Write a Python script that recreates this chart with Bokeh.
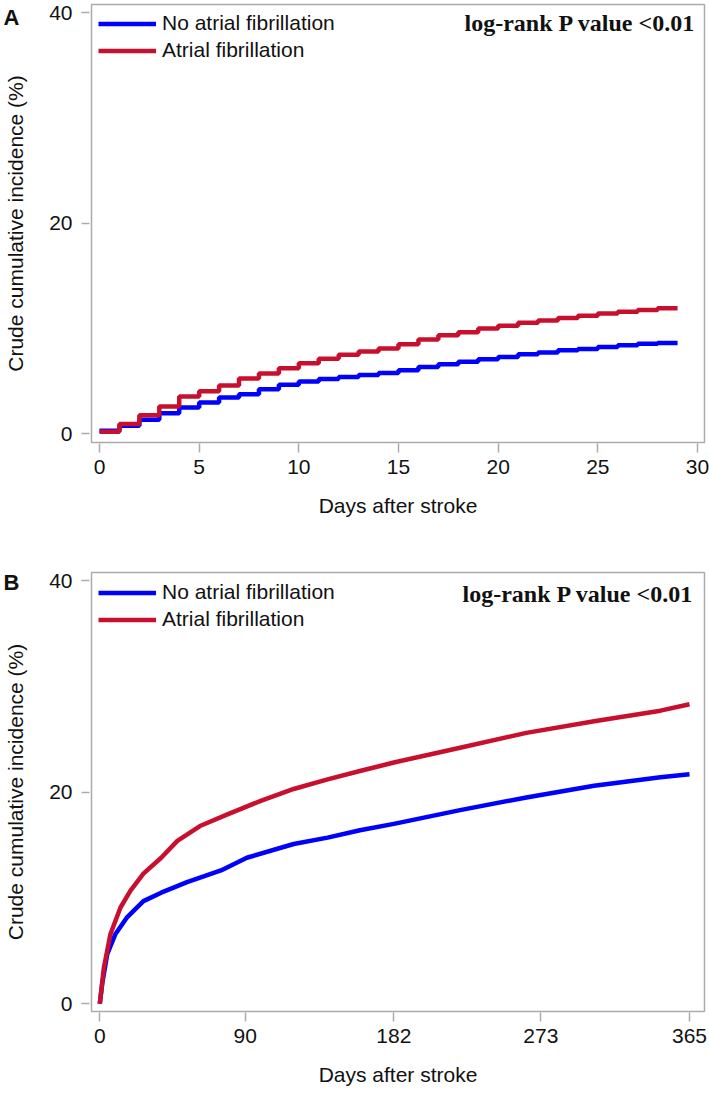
from bokeh.plotting import figure
from bokeh.models import Range1d, FixedTicker, Label, LinearAxis, PrintfTickFormatter
from bokeh.layouts import column
from bokeh.embed import file_html
from bokeh.resources import INLINE

# ---------------- data ----------------
# Panel A: 30-day crude cumulative incidence (%), step values per day interval
days_a = [0, 1, 2, 3, 4, 5, 6, 7, 8, 9, 10, 11, 12, 13, 14, 15, 16, 17, 18, 19,
          20, 21, 22, 23, 24, 25, 26, 27, 28, 29]
no_af_a = [0.30, 0.76, 1.33, 1.96, 2.50, 2.97, 3.44, 3.76, 4.24, 4.65, 4.96, 5.20,
           5.40, 5.58, 5.78, 6.04, 6.35, 6.60, 6.85, 7.08, 7.30, 7.55, 7.71, 7.94,
           8.06, 8.25, 8.41, 8.56, 8.63, 8.63]
af_a = [0.20, 0.92, 1.77, 2.59, 3.54, 4.04, 4.58, 5.24, 5.72, 6.23, 6.70, 7.12,
        7.50, 7.82, 8.10, 8.50, 8.95, 9.35, 9.65, 10.00, 10.25, 10.55, 10.75, 11.00,
        11.20, 11.42, 11.58, 11.75, 11.92, 11.92]

# Panel B: 1-year crude cumulative incidence (%)
days_b_no_af = [0, 1.5, 4.6, 9.7, 17, 27, 38, 54, 75, 91, 120, 141, 161, 182, 223,
                264, 306, 347, 365]
no_af_b = [0.0, 1.9, 4.7, 6.6, 8.2, 9.7, 10.5, 11.5, 12.6, 13.8, 15.1, 15.7, 16.4,
           17.0, 18.3, 19.5, 20.6, 21.4, 21.7]
days_b_af = [0, 2.5, 6.6, 12.8, 19, 27, 38, 48, 62, 79, 100, 120, 141, 161, 182, 223,
             264, 306, 347, 365]
af_b = [0.0, 3.4, 6.6, 9.1, 10.7, 12.3, 13.8, 15.4, 16.8, 17.9, 19.2, 20.3, 21.2,
        22.0, 22.8, 24.2, 25.6, 26.7, 27.7, 28.3]

x_ticks_a = [0, 5, 10, 15, 20, 25, 30]
x_ticks_b = [0, 90, 182, 273, 365]
y_ticks = [0, 20, 40]

series_names = ["No atrial fibrillation", "Atrial fibrillation"]
panel_letters = ["A", "B"]
x_title = "Days after stroke"
y_title = "Crude cumulative incidence (%)"
p_text = "log-rank P value <0.01"

BLUE = "#0000FF"
RED = "#C8102E"
FRAME = "#ABABAB"
INK = "#111111"
SANS = "Liberation Sans"
SERIF = "Liberation Serif"
W = 709


def style(p, xt, letter, letter_at):
    p.outline_line_color = FRAME
    p.outline_line_width = 1.5
    p.grid.grid_line_color = None
    p.background_fill_color = "white"
    p.border_fill_color = "white"
    p.xaxis.ticker = FixedTicker(ticks=xt)
    p.yaxis.ticker = FixedTicker(ticks=y_ticks)
    for ax in (p.xaxis[0], p.yaxis[0]):
        ax.axis_line_color = None
        ax.minor_tick_line_color = None
        ax.major_tick_line_color = FRAME
        ax.major_tick_line_width = 1.5
        ax.major_label_text_font = SANS
        ax.major_label_text_font_size = "21px"
        ax.major_label_text_color = INK
        ax.axis_label_text_font = SANS
        ax.axis_label_text_font_size = "21px"
        ax.axis_label_text_font_style = "normal"
        ax.axis_label_text_color = INK
        ax.major_tick_out = 10
    p.yaxis.major_tick_in = -2
    p.xaxis.major_tick_in = -1
    p.yaxis.major_label_standoff = 9
    p.xaxis.major_label_standoff = 7
    p.xaxis.axis_label = x_title
    p.xaxis.axis_label_standoff = 17

    # outer left axis: carries the panel letter (as its only tick label)
    # and the rotated y title
    outer = LinearAxis(ticker=FixedTicker(ticks=[letter_at]),
                       formatter=PrintfTickFormatter(format=letter),
                       axis_label=y_title)
    outer.axis_line_color = None
    outer.major_tick_line_color = None
    outer.minor_tick_line_color = None
    outer.major_tick_out = 0
    outer.major_tick_in = 0
    outer.major_label_standoff = 27
    outer.major_label_text_font = SANS
    outer.major_label_text_font_size = "22px"
    outer.major_label_text_font_style = "bold"
    outer.major_label_text_color = INK
    outer.axis_label_standoff = -26
    outer.axis_label_text_font = SANS
    outer.axis_label_text_font_size = "21px"
    outer.axis_label_text_font_style = "normal"
    outer.axis_label_text_color = INK
    p.add_layout(outer, "left")


def legend_style(p, ybottom):
    lg = p.legend[0]
    lg.location = (7, ybottom)
    lg.padding = 0
    lg.margin = 0
    lg.spacing = 0
    lg.glyph_width = 58
    lg.glyph_height = 27
    lg.label_height = 27
    lg.label_standoff = 6
    lg.label_text_font = SANS
    lg.label_text_font_size = "21px"
    lg.label_text_color = INK
    lg.border_line_color = None
    lg.background_fill_alpha = 0


# ---------------- panel A ----------------
HA = 535
pA = figure(width=W, height=HA, output_backend="svg", toolbar_location=None,
            x_range=Range1d(-0.401, 30.351), y_range=Range1d(-0.826, 40.76),
            min_border_top=4, min_border_left=91, min_border_right=5,
            min_border_bottom=HA - 442)
style(pA, x_ticks_a, panel_letters[0], 39.53)
pA.step(days_a, no_af_a, mode="after", line_color=BLUE, line_width=4.5,
        legend_label=series_names[0])
pA.step(days_a, af_a, mode="after", line_color=RED, line_width=4.5,
        legend_label=series_names[1])
legend_style(pA, 378.5)
pA.add_layout(Label(x=604, y=420, x_units="screen", y_units="screen", text=p_text,
                    text_font=SERIF, text_font_size="24px", text_font_style="bold",
                    text_baseline="middle", text_align="right", text_color=INK))

# ---------------- panel B ----------------
HB = 1094 - HA
pB = figure(width=W, height=HB, output_backend="svg", toolbar_location=None,
            x_range=Range1d(-5.137, 374.28), y_range=Range1d(-0.728, 40.756),
            min_border_top=572 - HA, min_border_left=91, min_border_right=5,
            min_border_bottom=1094 - 1011)
style(pB, x_ticks_b, panel_letters[1], 39.8)
pB.line(days_b_no_af, no_af_b, line_color=BLUE, line_width=4.5, line_join="round",
        legend_label=series_names[0])
pB.line(days_b_af, af_b, line_color=RED, line_width=4.5, line_join="round",
        legend_label=series_names[1])
legend_style(pB, 378.5)
pB.add_layout(Label(x=602, y=418, x_units="screen", y_units="screen", text=p_text,
                    text_font=SERIF, text_font_size="24px", text_font_style="bold",
                    text_baseline="middle", text_align="right", text_color=INK))

layout = column(pA, pB, spacing=0)
open("out.html", "w").write(file_html(layout, INLINE))
